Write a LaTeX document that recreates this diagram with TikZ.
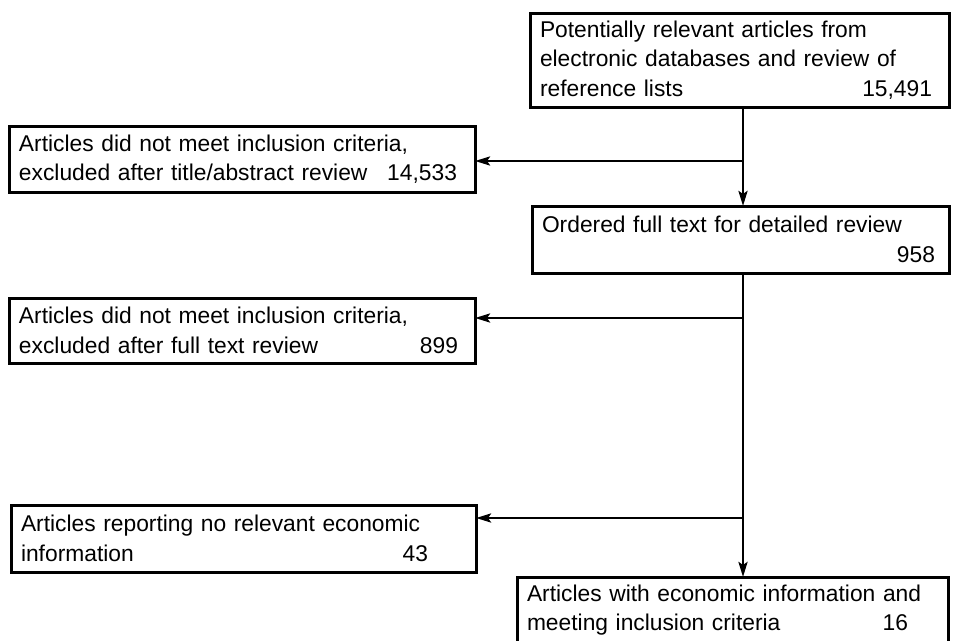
\documentclass[tikz,border=0pt]{standalone}
\usepackage{fontspec}
\setmainfont{Liberation Sans}
\usetikzlibrary{arrows.meta}
\newcommand{\tline}[2]{\makebox[#1][l]{#2}}
\begin{document}
\begin{tikzpicture}[x=1pt,y=-1pt,
  box/.style={draw, line width=3pt, outer sep=0pt, anchor=north west, align=left,
    inner xsep=10pt, inner ysep=0pt, font=\fontsize{22.8}{29.5}\selectfont},
  arr/.style={line width=2.7pt, -{Stealth[length=15pt,width=9pt,inset=3pt]}},
  ln/.style={line width=2.7pt}]
\clip (0,0) rectangle (953,640);
\fill[white] (0,0) rectangle (953,640);
\node[box, text width=399pt, minimum height=94pt] (b1) at (530,13)
  {Potentially relevant articles from\\electronic databases and review of\\\tline{399pt}{reference lists\hfill 15,491\hspace{7pt}}};
\node[box, text width=446pt, minimum height=66pt] (b2) at (9,126)
  {Articles did not meet inclusion criteria,\\\tline{446pt}{excluded after title/abstract review\hfill 14,533\hspace{8pt}}};
\node[box, text width=397pt, minimum height=67pt] (b3) at (532,206)
  {Ordered full text for detailed review\\\tline{397pt}{\hfill 958\hspace{4pt}}};
\node[box, text width=446pt, minimum height=65pt] (b4) at (9,298)
  {Articles did not meet inclusion criteria,\\\tline{446pt}{excluded after full text review\hfill 899\hspace{7pt}}};
\node[box, text width=445pt, minimum height=67pt] (b5) at (11,505)
  {Articles reporting no relevant economic\\\tline{445pt}{information\hfill 43\hspace{38pt}}};
\node[box, text width=411pt, minimum height=66pt] (b6) at (517,577)
  {Articles with economic information and\\\tline{411pt}{meeting inclusion criteria\hfill 16\hspace{30pt}}};
\coordinate (j1) at (743,161);
\coordinate (j2) at (743,318);
\coordinate (j3) at (743,518);
\draw[arr] (b1.south -| j1) -- (b3.north -| j1);
\draw[arr] (j1) -- (j1 -| b2.east);
\draw[ln] (b3.south -| j2) -- (j3);
\draw[arr] (j3) -- (b6.north -| j3);
\draw[arr] (j2) -- (j2 -| b4.east);
\draw[arr] (j3) -- (j3 -| b5.east);
\end{tikzpicture}
\end{document}
